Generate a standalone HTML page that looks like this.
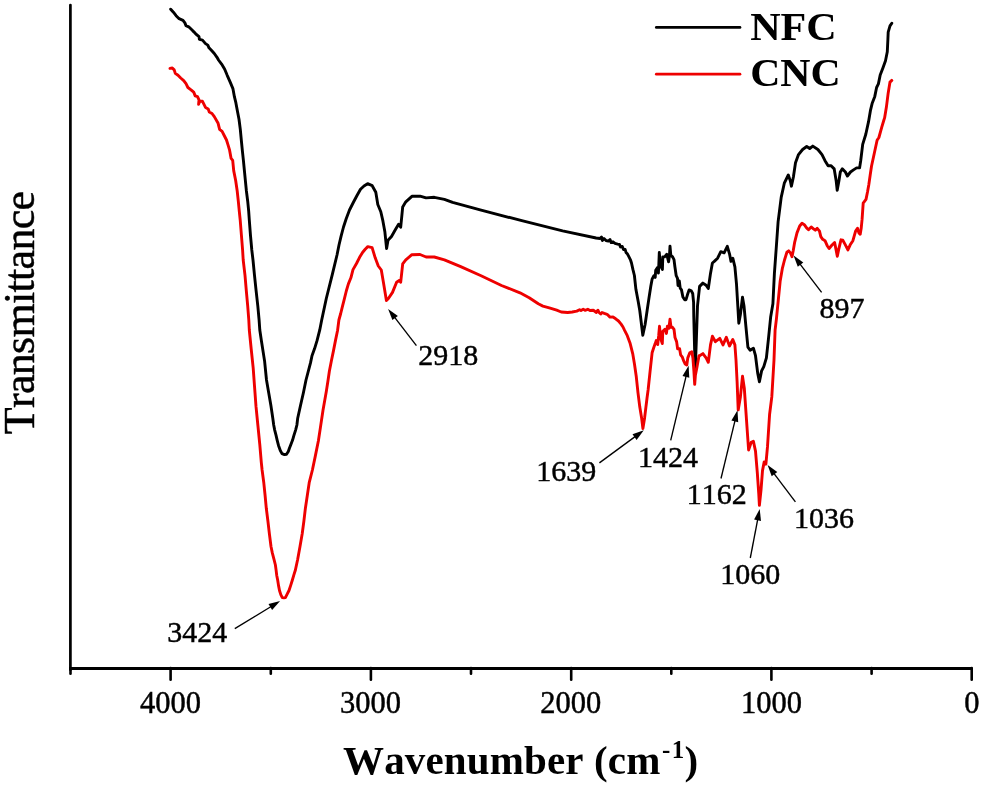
<!DOCTYPE html>
<html><head><meta charset="utf-8"><style>
html,body{margin:0;padding:0;background:#fff;}
svg{display:block;}
text{font-family:"Liberation Serif",serif;fill:#000;font-kerning:none;filter:grayscale(1);}
.th{stroke:#000;stroke-width:0.45px;}
</style></head><body>
<svg width="982" height="785" viewBox="0 0 982 785">
<polyline points="170.7,9.2 173.4,12.2 176.1,15.7 179.1,18.7 183.0,20.3 184.9,22.9 186.0,25.6 188.7,26.8 191.8,29.8 194.1,32.1 196.3,34.4 199.0,36.7 199.4,39.3 202.5,40.1 205.5,43.6 207.8,45.1 209.0,47.8 211.6,50.5 214.3,53.5 217.0,57.3 218.5,60.0 221.6,64.1 224.7,69.2 227.2,75.3 230.3,82.4 232.9,88.6 234.4,96.7 235.9,102.9 237.4,111.0 239.0,119.2 240.3,129.4 241.3,140.0 242.3,150.2 243.4,160.4 244.4,170.6 245.4,180.8 246.4,191.0 247.7,201.2 248.7,211.4 249.3,220.0 250.5,235.7 251.8,250.0 253.0,260.0 254.5,275.3 256.1,290.6 257.8,305.9 259.1,320.0 259.8,330.0 261.4,340.7 264.6,361.1 266.5,380.0 268.7,392.7 270.9,405.5 272.8,418.2 273.7,425.0 274.7,430.1 276.0,435.2 277.2,440.3 278.5,445.4 280.3,450.5 282.0,453.6 284.5,454.6 286.5,454.3 288.3,451.5 289.5,448.0 290.5,445.4 292.5,440.3 294.0,435.2 295.6,430.1 296.9,425.0 297.7,418.2 300.5,405.5 303.4,392.7 306.0,380.0 310.5,362.9 312.0,355.7 314.6,348.6 317.1,340.4 319.7,330.2 321.7,320.0 326.3,298.5 332.4,274.1 337.0,255.0 339.0,245.0 341.1,236.1 343.5,227.0 346.2,218.8 349.5,210.0 353.3,202.5 357.0,195.5 360.5,189.3 364.0,186.0 367.6,183.7 372.2,185.7 375.8,192.3 377.8,204.5 380.8,211.7 382.9,220.9 384.9,232.1 386.6,248.5 388.0,240.2 391.5,236.4 395.6,229.3 398.6,224.2 400.7,227.2 401.7,217.1 402.7,206.9 405.8,201.8 411.9,196.3 420.0,196.1 426.1,197.9 434.3,197.3 444.4,199.3 452.6,202.4 481.1,210.1 521.8,220.7 562.6,230.9 596.1,238.0 600.0,238.5 601.5,237.0 602.3,240.5 604.0,238.5 606.0,240.5 608.4,241.1 610.0,239.6 611.2,242.6 613.0,241.8 615.0,243.4 617.6,244.1 619.5,244.5 620.5,247.0 622.2,246.4 623.5,249.5 625.2,249.5 626.0,252.5 627.5,254.1 628.6,256.2 630.6,260.2 631.5,263.0 632.9,269.4 634.4,275.5 635.9,289.3 638.2,301.6 639.8,310.8 641.3,323.0 642.8,335.3 645.1,324.5 647.2,310.0 649.0,297.9 650.8,286.3 652.1,279.2 653.9,275.7 655.2,277.4 655.7,270.3 657.5,267.6 658.4,273.0 658.8,265.0 659.3,252.5 660.2,264.1 661.5,267.6 662.4,269.4 662.8,256.9 664.6,256.9 666.8,254.3 668.6,261.8 669.5,255.2 670.0,246.2 670.8,255.2 672.6,256.9 674.0,259.6 674.9,266.7 676.2,275.7 677.5,278.3 678.0,285.5 679.3,281.0 680.2,288.1 681.5,289.9 682.9,297.0 684.7,299.7 686.0,299.7 687.3,295.3 689.1,289.9 691.3,290.8 692.7,293.5 693.6,302.4 693.8,316.7 694.6,349.2 695.3,368.8 696.4,338.4 697.5,305.9 699.6,286.4 702.9,283.1 706.1,285.3 708.3,288.5 710.5,273.4 712.4,263.0 714.3,261.4 717.6,258.2 720.8,251.7 724.1,252.8 727.3,246.3 729.5,253.8 731.0,261.4 732.8,258.2 734.9,266.9 736.5,284.2 737.8,305.9 738.8,323.2 740.4,314.6 742.5,297.2 744.0,305.9 745.8,325.4 747.9,347.1 750.1,350.3 753.4,348.2 755.5,355.7 757.7,373.1 759.4,381.8 761.6,370.9 763.8,366.6 766.4,357.9 768.5,338.4 770.7,316.7 772.9,303.7 774.4,273.4 776.1,250.0 778.1,221.9 781.2,197.4 784.3,183.2 788.3,175.0 790.4,181.1 791.4,186.2 793.4,177.0 795.5,162.8 798.5,154.6 802.6,149.5 806.7,146.5 809.7,148.5 812.8,146.1 817.9,149.5 822.0,154.6 825.0,160.7 828.1,165.8 831.1,165.8 834.2,168.9 836.2,181.1 837.2,190.3 838.9,181.1 840.3,172.0 842.3,168.9 845.4,172.0 847.4,176.0 850.5,172.0 853.5,169.9 856.6,167.9 859.6,167.9 860.7,160.7 862.7,144.4 865.8,134.3 868.6,121.4 870.4,110.7 872.1,103.6 874.8,96.4 876.6,87.5 878.4,83.9 880.2,75.0 882.9,67.9 885.5,60.7 887.3,51.8 887.9,39.3 888.2,32.1 890.0,25.9 891.8,23.2" fill="none" stroke="#000" stroke-width="2.9" stroke-linejoin="round" stroke-linecap="round"/>
<polyline points="170.0,68.4 172.3,68.0 174.2,69.9 175.3,73.4 178.0,75.3 180.7,78.0 183.7,80.6 186.0,83.7 187.9,87.5 191.0,89.8 193.7,92.1 195.2,95.9 197.5,96.7 199.0,99.8 198.6,104.3 199.8,101.3 202.5,101.3 204.0,104.3 205.5,107.4 208.2,108.9 209.3,112.0 212.0,113.5 214.3,116.6 218.1,123.3 219.6,129.4 222.1,131.4 224.2,135.5 226.5,140.0 228.1,145.1 229.6,150.2 231.1,158.4 232.7,160.4 233.7,170.6 235.7,180.8 237.2,191.0 238.3,201.2 239.3,211.4 240.2,220.0 241.4,235.0 242.6,250.0 243.2,260.0 245.0,275.3 246.3,290.6 247.7,305.9 248.8,320.0 249.3,330.0 251.2,349.0 253.2,368.2 254.6,387.3 256.0,406.4 257.9,425.5 259.8,444.7 261.3,462.3 262.1,470.0 263.8,482.8 265.1,495.5 266.3,508.3 267.9,521.0 269.4,533.8 271.0,546.5 272.3,552.9 274.0,559.3 275.4,565.0 276.1,570.1 276.7,575.2 277.7,580.3 278.5,585.4 279.5,590.5 280.8,594.6 282.3,597.6 283.9,597.9 285.4,597.6 286.9,594.6 289.0,590.5 290.7,585.4 292.3,580.3 293.8,575.2 295.4,570.0 297.7,559.2 300.0,546.4 302.2,533.7 303.9,521.0 305.4,508.2 307.3,495.5 309.2,482.7 312.4,470.0 315.3,456.1 318.4,440.8 320.4,427.6 323.0,410.2 324.8,400.0 326.3,391.4 327.9,381.2 329.4,371.0 331.4,360.8 333.5,350.6 335.5,340.4 337.6,330.2 338.9,320.0 340.7,313.5 342.2,307.3 344.3,299.2 346.3,291.0 348.4,283.9 350.9,277.8 353.0,269.6 356.5,263.5 359.6,257.3 362.7,252.2 365.2,249.2 367.8,246.6 372.1,247.6 375.2,257.8 378.3,266.0 381.3,270.0 383.4,282.2 386.4,300.6 388.4,298.5 392.5,292.4 396.6,282.2 399.6,280.2 400.7,282.2 402.7,263.9 405.8,259.8 411.9,254.7 420.0,254.5 426.1,257.0 434.3,257.0 444.4,259.8 460.7,266.6 481.1,275.7 501.5,285.5 520.0,292.8 529.2,297.8 538.3,303.8 542.9,306.1 549.3,307.9 556.7,310.2 561.2,312.0 567.7,312.5 572.2,312.0 576.8,311.1 579.6,309.7 581.0,310.5 583.2,309.3 585.0,310.3 587.8,309.3 590.0,310.5 593.3,310.2 595.0,311.5 596.1,312.5 597.9,310.2 599.0,312.5 600.7,313.9 602.0,312.5 604.3,313.4 607.1,314.3 610.0,317.1 613.0,317.0 615.7,318.8 618.5,321.0 621.1,324.1 623.0,327.0 624.6,330.4 627.3,335.7 630.0,342.9 632.7,353.6 634.5,364.3 636.3,376.8 638.0,392.9 639.8,407.1 641.6,417.9 642.9,428.6 644.6,417.9 647.0,398.2 648.1,390.0 650.1,371.1 652.1,352.8 653.7,347.7 655.2,343.6 656.2,340.6 657.7,344.6 658.7,335.5 659.5,326.3 660.3,334.4 661.3,340.6 662.3,343.6 662.8,331.4 664.9,329.3 666.4,333.4 667.4,326.3 668.9,328.3 670.0,319.2 671.0,327.3 672.5,327.3 674.0,329.3 675.0,337.5 676.6,341.6 677.6,348.7 679.6,348.7 680.6,354.8 682.2,356.8 683.7,360.9 685.2,364.0 686.8,365.0 687.8,357.9 689.8,352.8 691.8,351.8 692.9,357.9 693.9,371.1 694.7,384.3 695.4,375.2 697.0,367.0 699.0,355.8 699.6,355.7 702.9,353.6 706.1,357.9 708.3,362.3 710.5,344.9 712.4,336.2 715.4,341.7 719.8,338.4 723.0,344.9 726.3,337.3 729.5,346.0 732.8,339.5 734.9,344.9 736.0,360.0 737.1,381.7 738.2,409.9 740.4,396.9 742.5,376.3 744.3,388.2 745.8,409.9 747.3,431.5 748.6,450.0 751.2,442.4 753.4,441.3 755.5,451.1 757.3,472.7 758.8,494.4 759.4,505.3 761.0,490.1 762.5,470.6 764.2,461.9 765.9,464.1 767.5,446.7 769.6,414.2 771.8,396.9 774.0,360.0 775.1,330.0 776.4,319.1 778.3,300.0 780.2,280.9 782.3,268.7 784.5,260.0 786.9,252.2 788.7,250.8 790.6,253.1 792.0,256.7 793.3,250.3 794.7,242.1 797.0,232.9 799.7,226.0 802.0,223.3 804.3,224.7 806.6,227.9 808.5,229.7 811.2,227.0 813.5,228.8 815.3,230.2 817.2,228.3 819.5,231.1 820.8,236.6 822.7,239.3 825.0,240.7 827.2,245.7 829.1,248.5 831.8,245.3 834.6,242.5 836.0,249.4 837.3,256.3 838.7,249.4 841.0,239.8 842.8,240.2 845.1,244.4 847.9,249.9 850.2,244.8 852.9,240.7 855.6,231.1 857.5,228.3 858.9,232.9 860.2,234.3 861.2,228.3 862.1,219.2 863.2,203.1 866.0,199.4 867.5,192.0 868.8,184.7 870.2,175.0 871.5,166.2 874.3,153.3 877.1,140.3 878.9,137.5 881.7,127.4 883.9,120.0 884.6,117.9 886.4,107.1 888.2,92.9 890.0,82.1 891.8,80.4" fill="none" stroke="#ee0000" stroke-width="2.9" stroke-linejoin="round" stroke-linecap="round"/>
<line x1="70.4" y1="5.0" x2="70.4" y2="669.8" stroke="#000" stroke-width="2.7" stroke-linecap="round"/>
<line x1="69.1" y1="668.5" x2="972.3" y2="668.5" stroke="#000" stroke-width="3" stroke-linecap="butt"/>
<line x1="971.7" y1="668" x2="971.7" y2="679.8" stroke="#000" stroke-width="2.6" stroke-linecap="round"/><line x1="871.6" y1="668" x2="871.6" y2="673.8" stroke="#000" stroke-width="2.6" stroke-linecap="round"/><line x1="771.4" y1="668" x2="771.4" y2="679.8" stroke="#000" stroke-width="2.6" stroke-linecap="round"/><line x1="671.3" y1="668" x2="671.3" y2="673.8" stroke="#000" stroke-width="2.6" stroke-linecap="round"/><line x1="571.2" y1="668" x2="571.2" y2="679.8" stroke="#000" stroke-width="2.6" stroke-linecap="round"/><line x1="471.0" y1="668" x2="471.0" y2="673.8" stroke="#000" stroke-width="2.6" stroke-linecap="round"/><line x1="370.9" y1="668" x2="370.9" y2="679.8" stroke="#000" stroke-width="2.6" stroke-linecap="round"/><line x1="270.8" y1="668" x2="270.8" y2="673.8" stroke="#000" stroke-width="2.6" stroke-linecap="round"/><line x1="170.6" y1="668" x2="170.6" y2="679.8" stroke="#000" stroke-width="2.6" stroke-linecap="round"/><line x1="70.5" y1="668" x2="70.5" y2="673.8" stroke="#000" stroke-width="2.6" stroke-linecap="round"/>
<line x1="234.8" y1="628.6" x2="272.0" y2="606.0" stroke="#000" stroke-width="1.35"/><polygon points="280.1,601.1 272.1,610.1 268.5,604.1" fill="#000"/>
<line x1="416.4" y1="345.6" x2="393.9" y2="316.4" stroke="#000" stroke-width="1.35"/><polygon points="388.1,308.9 397.9,315.9 392.4,320.1" fill="#000"/>
<line x1="599.4" y1="462.9" x2="636.1" y2="435.9" stroke="#000" stroke-width="1.35"/><polygon points="643.8,430.3 636.6,439.9 632.5,434.3" fill="#000"/>
<line x1="670.7" y1="440.4" x2="686.4" y2="374.9" stroke="#000" stroke-width="1.35"/><polygon points="688.6,365.7 689.3,377.7 682.5,376.1" fill="#000"/>
<line x1="721.0" y1="478.5" x2="735.3" y2="419.4" stroke="#000" stroke-width="1.35"/><polygon points="737.5,410.2 738.2,422.2 731.4,420.6" fill="#000"/>
<line x1="750.3" y1="558.0" x2="757.9" y2="518.3" stroke="#000" stroke-width="1.35"/><polygon points="759.7,509.0 761.0,521.0 754.1,519.6" fill="#000"/>
<line x1="795.4" y1="501.9" x2="773.3" y2="472.6" stroke="#000" stroke-width="1.35"/><polygon points="767.6,465.0 777.3,472.1 771.7,476.3" fill="#000"/>
<line x1="821.6" y1="292.4" x2="799.3" y2="263.1" stroke="#000" stroke-width="1.35"/><polygon points="793.6,255.5 803.3,262.5 797.8,266.8" fill="#000"/>
<text x="197.3" y="641.5" text-anchor="middle" font-size="30" class="th">3424</text>
<text x="448.2" y="364.5" text-anchor="middle" font-size="30" class="th">2918</text>
<text x="566.3" y="481" text-anchor="middle" font-size="30" class="th">1639</text>
<text x="668.1" y="466.8" text-anchor="middle" font-size="30" class="th">1424</text>
<text x="716.8" y="504.2" text-anchor="middle" font-size="30" class="th">1162</text>
<text x="750.2" y="583.5" text-anchor="middle" font-size="30" class="th">1060</text>
<text x="824.0" y="527.6" text-anchor="middle" font-size="30" class="th">1036</text>
<text x="842.0" y="317.5" text-anchor="middle" font-size="30" class="th">897</text>
<text x="170.5" y="712.8" text-anchor="middle" font-size="30.5" class="th">4000</text>
<text x="370.6" y="712.8" text-anchor="middle" font-size="30.5" class="th">3000</text>
<text x="570.7" y="712.8" text-anchor="middle" font-size="30.5" class="th">2000</text>
<text x="771.5" y="712.8" text-anchor="middle" font-size="30.5" class="th">1000</text>
<text x="971.9" y="712.8" text-anchor="middle" font-size="30.5" class="th">0</text>
<line x1="656.3" y1="27.4" x2="740" y2="27.4" stroke="#000" stroke-width="2.7" stroke-linecap="round"/>
<line x1="656.3" y1="74.2" x2="740" y2="74.2" stroke="#ee0000" stroke-width="2.7" stroke-linecap="round"/>
<text transform="translate(750.2,39.5) scale(1.053,1)" font-size="40" font-weight="bold">NFC</text>
<text transform="translate(750.2,85.5) scale(1.045,1)" font-size="40" font-weight="bold">CNC</text>
<text x="343" y="774.3" font-size="41" font-weight="bold" letter-spacing="0.15">Wavenumber (cm</text>
<text x="662" y="758.4" font-size="25" font-weight="bold">-</text>
<text x="671.8" y="758.4" font-size="25" font-weight="bold">1</text>
<text x="684.5" y="774.3" font-size="41" font-weight="bold">)</text>
<text transform="translate(34.2,434.2) rotate(-90)" x="0" y="0" font-size="44" letter-spacing="-0.7" class="th">Transmittance</text>
</svg>
</body></html>
